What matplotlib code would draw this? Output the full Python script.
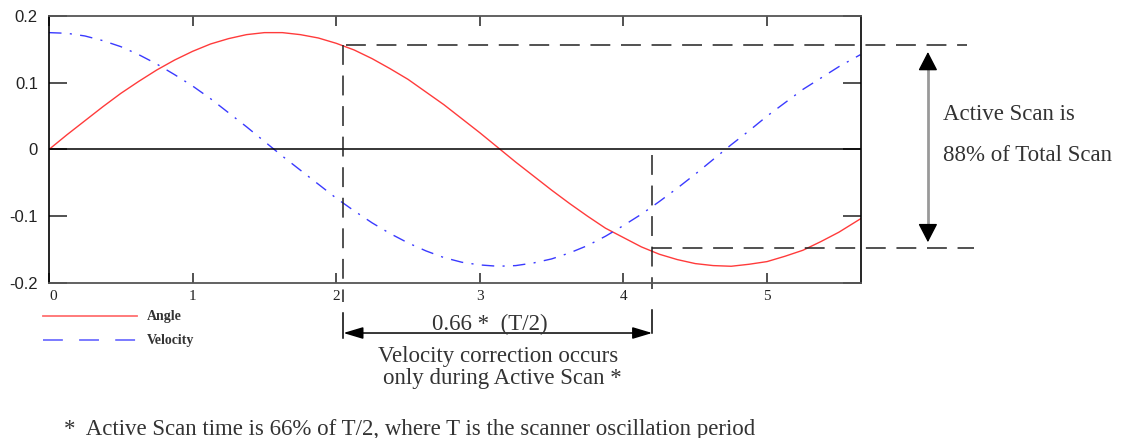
"""
scanner angle / velocity plot with the active scan window marked
"""

import matplotlib
matplotlib.use('Agg')
import matplotlib.pyplot as plt
from matplotlib.lines import Line2D

# curve samples
TIME = [0, 0.125, 0.25, 0.375, 0.5, 0.625, 0.75, 0.875, 1.0, 1.125, 1.25,
        1.375, 1.5, 1.625, 1.75, 1.875, 2.0, 2.125, 2.25, 2.375, 2.5,
        2.625, 2.75, 2.875, 3.0, 3.125, 3.25, 3.375, 3.5, 3.625, 3.75,
        3.875, 4.0, 4.125, 4.25, 4.375, 4.5, 4.625, 4.75, 4.875, 5.0,
        5.125, 5.25, 5.375, 5.5, 5.575, 5.65]
ANGLE = [0.0, 0.022, 0.043, 0.064, 0.084, 0.102, 0.119, 0.134, 0.147,
         0.158, 0.166, 0.172, 0.175, 0.175, 0.172, 0.167, 0.159, 0.149,
         0.136, 0.121, 0.105, 0.086, 0.067, 0.046, 0.025, 0.003, -0.019,
         -0.040, -0.061, -0.081, -0.100, -0.118, -0.132, -0.146, -0.157,
         -0.165, -0.171, -0.174, -0.175, -0.172, -0.168, -0.160, -0.151,
         -0.138, -0.124, -0.114, -0.104]
VELOCITY = [0.175, 0.174, 0.170, 0.163, 0.154, 0.142, 0.128, 0.112, 0.095,
            0.076, 0.055, 0.034, 0.012, -0.010, -0.031, -0.052, -0.073,
            -0.092, -0.110, -0.126, -0.140, -0.152, -0.162, -0.169,
            -0.173, -0.175, -0.174, -0.170, -0.164, -0.155, -0.144,
            -0.130, -0.114, -0.097, -0.078, -0.058, -0.037, -0.015, 0.007,
            0.028, 0.050, 0.070, 0.090, 0.107, 0.124, 0.133, 0.142]

X_TICKS = [0, 1, 2, 3, 4, 5]
Y_TICKS = [-0.2, -0.1, 0, 0.1, 0.2]
Y_LABELS = ['-0.2', '-0.1', '0', '0.1', '0.2']

# active scan window
SCAN_START = 2.05
SCAN_END = 4.2
SCAN_TOP = 0.157
SCAN_BOTTOM = -0.148

RED = '#ff3b3b'
BLUE = '#3a3aff'
TEXT = '#333333'
SERIF = 'Liberation Serif'
SANS = 'Liberation Sans'
W, H = 1124, 438


def px_text(x, y, s, size=16.5, ha='left', **kw):
    """
        puts text on the figure using pixel coords from the top left
    """
    fig.text(x / W, 1 - y / H, s, fontfamily=SERIF, fontsize=size, ha=ha,
             va='baseline', color=TEXT, **kw)


fig = plt.figure(figsize=(W / 100, H / 100), dpi=100)
ax = fig.add_axes([0.0436, 0.354, 0.7224, 0.6096])

ax.plot(TIME, ANGLE, color=RED, lw=1.0)
ax.plot(TIME, VELOCITY, color=BLUE, lw=1.0, dashes=(9, 6, 1.5, 6))
ax.axhline(0, color='black', lw=1.1)

ax.set_xlim(0, 5.654)
ax.set_ylim(-0.2, 0.2)
ax.set_xticks(X_TICKS)
ax.set_xticklabels([str(t) for t in X_TICKS], fontfamily=SERIF, fontsize=11)
ax.get_xticklabels()[0].set_ha('left')
ax.set_yticks(Y_TICKS)
ax.set_yticklabels(Y_LABELS, fontfamily=SANS, fontsize=12)
ax.tick_params(axis='x', direction='in', length=7, width=1.1,
               top=True, pad=5, colors='#222222')
ax.tick_params(axis='y', direction='in', length=13, width=1.1,
               right=True, pad=8, colors='#222222')
for side in ['top', 'bottom']:
    ax.spines[side].set_color('#555555')
    ax.spines[side].set_linewidth(1.3)
for side in ['left', 'right']:
    ax.spines[side].set_color('black')
    ax.spines[side].set_linewidth(1.2)

# dashed markers for the active scan window
dash = dict(color='#222222', lw=1.1, dashes=(13, 7), clip_on=False)
ax.plot([SCAN_START, SCAN_START], [SCAN_TOP, -0.229], **dash)
ax.plot([SCAN_END, SCAN_END], [-0.009, -0.209], **dash)
ax.plot([SCAN_START + 0.02, 6.39], [SCAN_TOP, SCAN_TOP], **dash)
ax.plot([SCAN_END, 6.44], [SCAN_BOTTOM, SCAN_BOTTOM], **dash)

# horizontal span arrow under the plot
ax.plot([SCAN_START, SCAN_START], [-0.245, -0.283], color='black',
        lw=1.1, clip_on=False)
ax.plot([SCAN_END, SCAN_END], [-0.240, -0.275], color='black',
        lw=1.1, clip_on=False)
ax.annotate('', xy=(SCAN_START, -0.275), xytext=(SCAN_END, -0.275),
            annotation_clip=False,
            arrowprops=dict(arrowstyle='<|-|>,head_length=0.6,head_width=0.18',
                            color='black', lw=1.1, mutation_scale=20,
                            shrinkA=0, shrinkB=0))
px_text(490, 330, '0.66 *  (T/2)', ha='center')
px_text(498, 362, 'Velocity correction occurs', ha='center')
px_text(502, 384, 'only during Active Scan *', ha='center')

# vertical arrow on the right
arrow_x = 6.12
ax.plot([arrow_x, arrow_x], [0.13, -0.12], color='#999999', lw=2,
        clip_on=False)
head = dict(arrowstyle='-|>,head_length=0.58,head_width=0.3',
            color='black', mutation_scale=20, shrinkA=0, shrinkB=0)
ax.annotate('', xy=(arrow_x, 0.146), xytext=(arrow_x, 0.12),
            annotation_clip=False, arrowprops=head)
ax.annotate('', xy=(arrow_x, -0.139), xytext=(arrow_x, -0.113),
            annotation_clip=False, arrowprops=head)
px_text(943, 120, 'Active Scan is')
px_text(943, 161, '88% of Total Scan')

# hand drawn legend below the axes
fig.add_artist(Line2D([43 / W, 137 / W], [1 - 316 / H] * 2,
                      color='#ff7070', lw=1.3))
fig.add_artist(Line2D([43 / W, 137 / W], [1 - 340 / H] * 2,
                      color='#7070ff', lw=1.3, dashes=(11, 9)))
px_text(147, 320, 'Angle', size=10, fontweight='bold')
px_text(147, 344, 'Velocity', size=10, fontweight='bold')

px_text(64, 435, '*  Active Scan time is 66% of T/2, where T is the '
        'scanner oscillation period')

fig.savefig('out.png', dpi=100)
